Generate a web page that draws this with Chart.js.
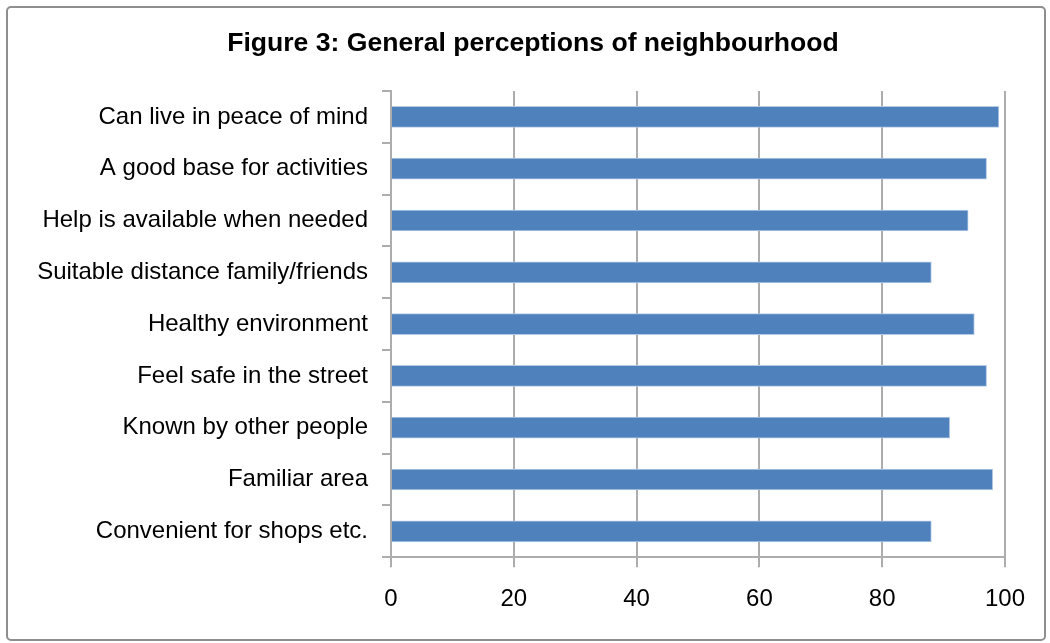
<!DOCTYPE html>
<html>
<head>
<meta charset="utf-8">
<script src="https://cdn.jsdelivr.net/npm/chart.js@4/dist/chart.umd.min.js"></script>
<style>
  html, body { margin: 0; padding: 0; background: #fff; }
  #wrap { position: relative; width: 1050px; height: 643px; }
  #frame {
    position: absolute; left: 6px; top: 6px; width: 1036px; height: 631px;
    border: 2px solid #8e8e8e; border-radius: 5px; pointer-events: none;
  }
</style>
</head>
<body>
<div id="wrap">
  <canvas id="chart" width="1050" height="643"></canvas>
  <div id="frame"></div>
</div>
<script>
// Share of respondents agreeing with each statement (%)
const categories = [
    'Can live in peace of mind',
    'A good base for activities',
    'Help is available when needed',
    'Suitable distance family/friends',
    'Healthy environment',
    'Feel safe in the street',
    'Known by other people',
    'Familiar area',
    'Convenient for shops etc.'
];
const values = [99, 97, 94, 88, 95, 97, 91, 98, 88];
const xTicks = [0, 20, 40, 60, 80, 100];
const chartTitle = 'Figure 3: General perceptions of neighbourhood';

const gridGrey = '#adadad';
const fontFamily = '"Liberation Sans", Arial, sans-serif';

// Title is centred on the whole frame rather than the plot, so draw it here
const frameTitle = {
    id: 'frameTitle',
    afterDraw(chart) {
        const ctx = chart.ctx;
        ctx.save();
        ctx.font = 'bold 26.6px ' + fontFamily;
        ctx.fillStyle = '#000';
        ctx.textAlign = 'center';
        ctx.textBaseline = 'middle';
        ctx.fillText(chartTitle, 533, 44);
        ctx.restore();
    }
};

new Chart(document.getElementById('chart'), {
    type: 'bar',
    data: {
        labels: categories,
        datasets: [{
            data: values,
            backgroundColor: '#4f81bd',
            borderColor: '#b4cbe6',
            borderWidth: 1,
            barThickness: 21
        }]
    },
    plugins: [frameTitle],
    options: {
        indexAxis: 'y',
        responsive: false,
        animation: false,
        layout: { padding: { left: 0, right: 45, top: 91, bottom: 11 } },
        plugins: {
            legend: { display: false },
            tooltip: { enabled: false },
            title: { display: false }
        },
        scales: {
            x: {
                min: 0,
                max: 100,
                afterBuildTicks: scale => {
                    scale.ticks = xTicks.map(v => ({ value: v }));
                },
                grid: { color: gridGrey, lineWidth: 2, tickLength: 10 },
                border: { color: gridGrey, width: 2 },
                ticks: {
                    color: '#000',
                    padding: 18,
                    maxRotation: 0,
                    font: { family: fontFamily, size: 24 }
                }
            },
            y: {
                // value axis starts at x = 391
                afterFit: scale => { scale.width = 391; },
                grid: {
                    offset: true,
                    drawOnChartArea: false,
                    color: gridGrey,
                    lineWidth: 2,
                    tickLength: 9
                },
                border: { color: gridGrey, width: 2 },
                ticks: {
                    color: '#000',
                    padding: 14,
                    font: { family: fontFamily, size: 24 }
                }
            }
        }
    }
});
</script>
</body>
</html>
